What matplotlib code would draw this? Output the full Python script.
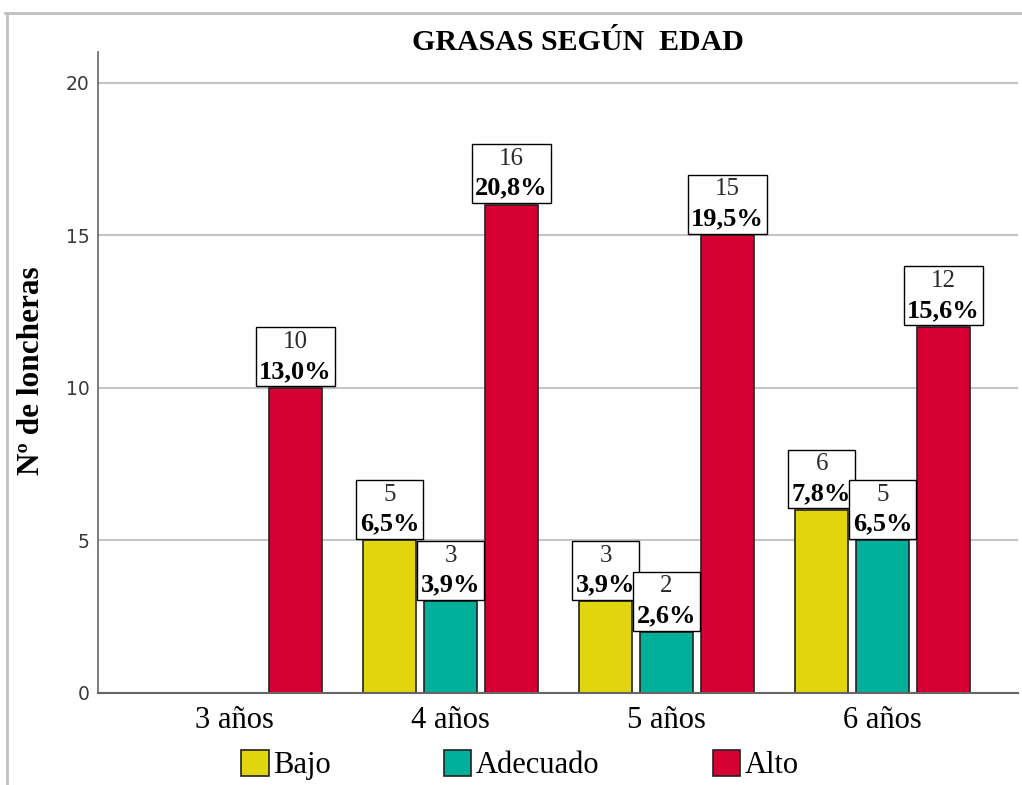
import numpy as np
import matplotlib
matplotlib.use("Agg")
import matplotlib.pyplot as plt
from matplotlib.lines import Line2D
from matplotlib.patches import Patch
from matplotlib.offsetbox import TextArea, VPacker, AnnotationBbox

ages = ["3 años", "4 años", "5 años", "6 años"]
levels = ["Bajo", "Adecuado", "Alto"]
bajo = [0, 5, 3, 6]
adecuado = [0, 3, 2, 5]
alto = [10, 16, 15, 12]
colors = ["#E1D50E", "#00B09B", "#D60032"]

serif = "Liberation Serif"
total = sum(bajo) + sum(adecuado) + sum(alto)

fig = plt.figure(figsize=(10.22, 7.85), dpi=100)
ax = fig.add_axes([98 / 1022, 92 / 785, 920 / 1022, 641 / 785])

x = np.arange(len(ages))
width = 0.245
step = 0.282

for i, (name, vals) in enumerate(zip(levels, [bajo, adecuado, alto])):
    pos = x + (i - 1) * step
    ax.bar(pos, vals, width, color=colors[i], edgecolor="#222222",
           linewidth=1.2, zorder=2)
    for px, v in zip(pos, vals):
        if v == 0:
            continue
        pct = f"{100 * v / total:.1f}%".replace(".", ",")
        top = TextArea(str(v), textprops=dict(family=serif, fontsize=18,
                                              color="#2a2a2a"))
        bot = TextArea(pct, textprops=dict(family=serif, fontsize=19,
                                           fontweight="bold", color="black"))
        pack = VPacker(children=[top, bot], align="center", pad=0, sep=5)
        ab = AnnotationBbox(pack, (px, v), xybox=(0, 3.5),
                            xycoords="data", boxcoords="offset points",
                            box_alignment=(0.5, 0), frameon=True, pad=0.15,
                            bboxprops=dict(edgecolor="black", facecolor="white",
                                           linewidth=1.0,
                                           boxstyle="square,pad=0.25"),
                            zorder=4)
        ax.add_artist(ab)

ax.set_xlim(-0.632, 3.627)
ax.set_ylim(0, 21)
ax.set_yticks([0, 5, 10, 15, 20])
ax.set_xticks(x)
ax.set_xticklabels(ages, family=serif, fontsize=22)
ax.tick_params(axis="x", length=0, pad=9)
ax.tick_params(axis="y", length=0, pad=6, labelsize=13.5, labelcolor="#3a3a3a")
ax.yaxis.grid(True, color="#c4c4c4", linewidth=1.5, zorder=0)
ax.set_axisbelow(True)
for s in ["top", "right"]:
    ax.spines[s].set_visible(False)
ax.spines["left"].set_color("#666666")
ax.spines["bottom"].set_color("#666666")
ax.spines["left"].set_linewidth(1.2)
ax.spines["bottom"].set_linewidth(1.5)

fig.text(578 / 1022, 1 - 43 / 785, "GRASAS SEGÚN  EDAD", family=serif,
         fontsize=21.5, fontweight="bold", ha="center", va="center")
fig.text(32 / 1022, 1 - 371 / 785, "Nº de loncheras", family=serif,
         fontsize=22.5, fontweight="bold", rotation=90, ha="center", va="center")

handles = [Patch(facecolor=c, edgecolor="#222222", linewidth=1.2) for c in colors]
fig.legend(handles, levels, loc="center", bbox_to_anchor=(520 / 1022, 1 - 765 / 785),
           ncol=3, frameon=False, prop=dict(family=serif, size=22),
           handlelength=0.9, handleheight=0.95, handletextpad=0.15,
           columnspacing=3.7, borderpad=0, borderaxespad=0)

# outer border
fig.add_artist(Line2D([5 / 1022, 1], [1 - 13 / 785, 1 - 13 / 785],
                      transform=fig.transFigure, color="#c0c0c0", linewidth=2))
fig.add_artist(Line2D([7 / 1022, 7 / 1022], [0, 1 - 13 / 785],
                      transform=fig.transFigure, color="#c0c0c0", linewidth=2))

fig.savefig("out.png", dpi=100)
